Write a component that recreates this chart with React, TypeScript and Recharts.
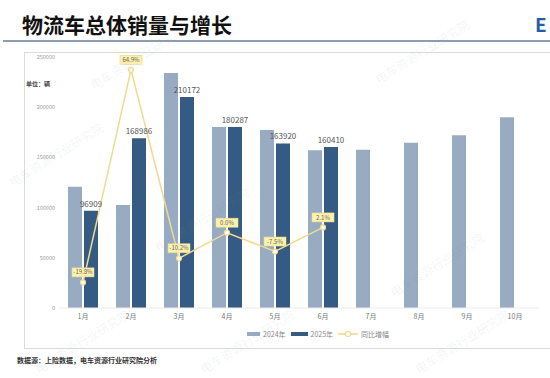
import {
  ComposedChart,
  Bar,
  Line,
  XAxis,
  YAxis,
  LabelList,
} from "recharts";

const months = ["1月", "2月", "3月", "4月", "5月", "6月", "7月", "8月", "9月", "10月"];
const sales2024 = [120800, 102500, 234000, 180200, 177200, 157100, 157500, 164500, 172000, 190000];
const sales2025 = [96909, 168986, 210172, 180287, 163920, 160410, null, null, null, null];
const yoyGrowth = [-19.8, 64.9, -10.2, 0.0, -7.5, 2.1, null, null, null, null];
const leftTicks = [0, 50000, 100000, 150000, 200000, 250000];

const COLOR_2024 = "#97abc3";
const COLOR_2025 = "#365b82";
const COLOR_LINE = "#f2d98e";
const FONT = '"Noto Sans CJK SC", "Noto Sans", sans-serif';

const data = months.map((m, i) => ({
  month: m,
  y2024: sales2024[i],
  y2025: sales2025[i],
  yoy: yoyGrowth[i],
}));

// faint diagonal watermark, kept inside the frame
const watermarks = [
  { x: 14, y: 175 },
  { x: 160, y: 240 },
  { x: 395, y: 285 },
  { x: 380, y: 72 },
  { x: 95, y: 78 },
  { x: 40, y: 362 },
  { x: 205, y: 362 },
  { x: 420, y: 362 },
];

function BarValueLabel(props: any) {
  const { x, y, width, value } = props;
  if (value == null) return null;
  return (
    <text
      x={x + width / 2}
      y={y - 4}
      textAnchor="middle"
      fontSize={8}
      fill="#555"
      fontFamily={FONT}
    >
      {value}
    </text>
  );
}

function YoyLabel(props: any) {
  const { x, y, value } = props;
  if (value == null) return null;
  const w = 22;
  const h = 9;
  return (
    <g>
      <rect
        x={x - w / 2}
        y={y - 10 - h / 2}
        width={w}
        height={h}
        fill="#fdf2ad"
        stroke="#ead88c"
        strokeWidth={0.6}
      />
      <text
        x={x}
        y={y - 10}
        dy="0.35em"
        textAnchor="middle"
        fontSize={6}
        fill="#666"
        fontFamily={FONT}
      >
        {value.toFixed(1)}%
      </text>
    </g>
  );
}

export default function App() {
  return (
    <div
      style={{
        position: "absolute",
        left: 0,
        top: 0,
        width: 550,
        height: 378,
        overflow: "hidden",
        background: "#fff",
        fontFamily: FONT,
      }}
    >
      <div
        style={{
          position: "absolute",
          left: 22,
          top: 10,
          fontSize: 21,
          fontWeight: 700,
          color: "#111",
          lineHeight: "28px",
        }}
      >
        物流车总体销量与增长
      </div>
      <div
        style={{
          position: "absolute",
          left: 535,
          top: 10,
          fontSize: 19,
          fontWeight: 700,
          color: "#1f5fa8",
          lineHeight: "28px",
        }}
      >
        E
      </div>
      <div
        style={{
          position: "absolute",
          left: 3,
          top: 40,
          width: 547,
          height: 2,
          background: "#8d9db3",
        }}
      />
      <div
        style={{
          position: "absolute",
          left: 24,
          top: 52,
          width: 530,
          height: 297,
          border: "1px solid #dadada",
          boxSizing: "border-box",
        }}
      />
      <div
        style={{
          position: "absolute",
          left: 26,
          top: 79,
          fontSize: 6,
          fontWeight: 700,
          color: "#444",
        }}
      >
        单位：辆
      </div>

      <div style={{ position: "absolute", left: 0, top: 0 }}>
        <ComposedChart
          width={550}
          height={378}
          data={data}
          margin={{ top: 57, right: 11, bottom: 50, left: 23 }}
          barGap={2}
        >
          <XAxis
            dataKey="month"
            tickLine={false}
            axisLine={{ stroke: "#ececec" }}
            tickSize={5}
            tickMargin={1}
            tick={{ fontSize: 7, fill: "#777", fontFamily: FONT }}
            interval={0}
            height={20}
          />
          <YAxis
            yAxisId="left"
            domain={[0, 250000]}
            ticks={leftTicks}
            tickLine={false}
            axisLine={false}
            tickSize={4}
            tickMargin={0}
            width={36}
            tick={{ fontSize: 5.5, fill: "#999", fontFamily: FONT }}
          />
          <YAxis yAxisId="right" orientation="right" domain={[-30, 70]} hide />
          <Bar
            yAxisId="left"
            dataKey="y2024"
            fill={COLOR_2024}
            barSize={14}
            isAnimationActive={false}
          />
          <Bar
            yAxisId="left"
            dataKey="y2025"
            fill={COLOR_2025}
            barSize={14}
            isAnimationActive={false}
          >
            <LabelList dataKey="y2025" content={BarValueLabel} />
          </Bar>
          <Line
            yAxisId="right"
            dataKey="yoy"
            stroke={COLOR_LINE}
            strokeWidth={1.5}
            dot={{ r: 2.5, fill: "#fff", stroke: COLOR_LINE, strokeWidth: 1.2 }}
            connectNulls={false}
            isAnimationActive={false}
          >
            <LabelList dataKey="yoy" content={YoyLabel} />
          </Line>
        </ComposedChart>
      </div>

      <div
        style={{
          position: "absolute",
          left: 247,
          top: 329,
          display: "flex",
          alignItems: "center",
          fontSize: 7,
          color: "#888",
          lineHeight: "10px",
        }}
      >
        <span style={{ width: 13, height: 4, background: COLOR_2024, marginRight: 3 }} />
        <span style={{ marginRight: 5 }}>2024年</span>
        <span style={{ width: 17, height: 4, background: COLOR_2025, marginRight: 3 }} />
        <span style={{ marginRight: 5 }}>2025年</span>
        <svg width={20} height={8} style={{ marginRight: 3 }}>
          <line x1={0} y1={4} x2={20} y2={4} stroke={COLOR_LINE} strokeWidth={1.5} />
          <circle cx={10} cy={4} r={2.5} fill="#fff" stroke={COLOR_LINE} strokeWidth={1.2} />
        </svg>
        <span>同比增幅</span>
      </div>

      <div
        style={{
          position: "absolute",
          left: 17,
          top: 355,
          fontSize: 7,
          fontWeight: 700,
          color: "#333",
        }}
      >
        数据源：上险数据，电车资源行业研究院分析
      </div>

      {watermarks.map((w, i) => (
        <div
          key={i}
          style={{
            position: "absolute",
            left: w.x,
            top: w.y,
            fontSize: 12,
            lineHeight: "14px",
            color: "rgba(120,130,150,0.10)",
            transform: "rotate(-32deg)",
            transformOrigin: "left bottom",
            whiteSpace: "nowrap",
            pointerEvents: "none",
          }}
        >
          电车资源行业研究院
        </div>
      ))}
    </div>
  );
}
